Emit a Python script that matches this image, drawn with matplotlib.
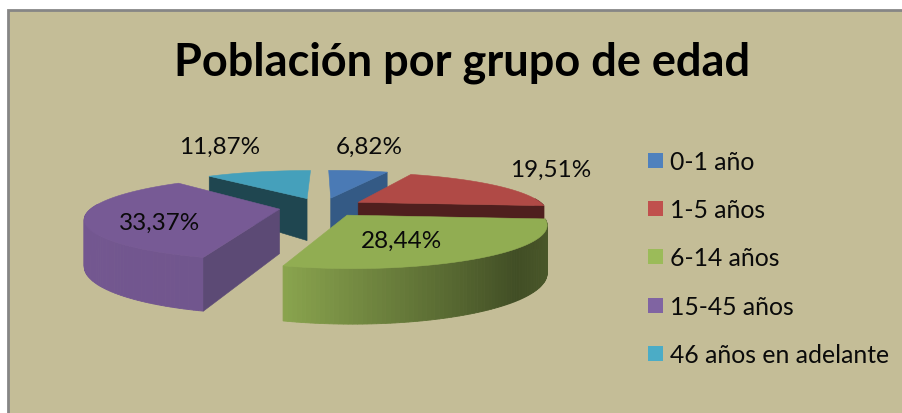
import numpy as np
import matplotlib
matplotlib.use("Agg")
import matplotlib.pyplot as plt
from matplotlib.patches import Polygon, Rectangle

plt.rcParams["font.family"] = ["Lato", "DejaVu Sans"]

title = "Población por grupo de edad"
categories = ["0-1 año", "1-5 años", "6-14 años", "15-45 años", "46 años en adelante"]
values = [6.82, 19.51, 28.44, 33.37, 11.87]

top_colors = ["#4a7ab5", "#b04a46", "#91ad52", "#775a95", "#45a0bb"]
cut_colors = ["#345a85", "#4f1f1e", "#5f7535", "#5c4a75", "#1f4650"]
legend_colors = ["#4f81bd", "#c0504d", "#9bbb59", "#8064a2", "#4bacc6"]
label_pos = [(369, 147), (551, 170), (402, 241), (160, 223), (220, 147)]
legend_y = [162.5, 210.5, 258.5, 307.5, 355.5]

BG = "#c4bd97"
CX, CY = 322, 208
A, B = 187, 41
HEIGHT = 44
EXPLODE = 0.23
PERSP = 0.22


def project(wx, wy, z=0.0):
    s = 1 - PERSP * wy
    return CX + A * wx * s, CY - B * wy * s + HEIGHT * z * s


def shade(color, f):
    return tuple(c * f for c in matplotlib.colors.to_rgb(color))


def rim_shade(u):
    return np.interp(u, [-1, -0.29, 0.75, 1], [0.97, 0.95, 0.45, 0.52])


fig = plt.figure(figsize=(9.02, 4.14), dpi=100, facecolor="white")
ax = fig.add_axes([0, 0, 1, 1])
ax.set_xlim(0, 902)
ax.set_ylim(414, 0)
ax.axis("off")

ax.add_patch(Rectangle((8, 11), 900, 410, facecolor=BG, edgecolor="#868686", lw=2))

edges = np.cumsum([0] + values) / sum(values) * 2 * np.pi


def draw_slice(i):
    t0, t1 = edges[i], edges[i + 1]
    mid = (t0 + t1) / 2
    ex, ey = EXPLODE * np.sin(mid), EXPLODE * np.cos(mid)
    th = np.linspace(t0, t1, 90)
    wx = ex + np.sin(th)
    wy = ey + np.cos(th)

    top = [project(ex, ey)] + [project(x, y) for x, y in zip(wx, wy)]

    for j in range(len(th) - 1):
        if np.cos(th[j]) > 0.1:
            continue
        quad = [project(wx[j], wy[j]), project(wx[j + 1], wy[j + 1]),
                project(wx[j + 1], wy[j + 1], 1), project(wx[j], wy[j], 1)]
        c = shade(top_colors[i], rim_shade(np.sin(th[j])))
        ax.add_patch(Polygon(quad, facecolor=c, edgecolor=c, lw=0.6))

    # only the cut faces turned towards the viewer get drawn
    for k, facing in ((0, np.sin(t0) < -0.01), (-1, np.sin(t1) > 0.01)):
        if facing:
            quad = [project(ex, ey), project(wx[k], wy[k]),
                    project(wx[k], wy[k], 1), project(ex, ey, 1)]
            ax.add_patch(Polygon(quad, facecolor=cut_colors[i], edgecolor=cut_colors[i], lw=0.4))

    ax.add_patch(Polygon(top, facecolor=top_colors[i], edgecolor=top_colors[i], lw=0.4))


for i in [4, 0, 1, 3, 2]:
    draw_slice(i)

for v, (x, y) in zip(values, label_pos):
    ax.text(x, y, f"{v:.2f}".replace(".", ",") + "%", ha="center", va="center",
            fontsize=17.5, color="#0a0a0a")

for name, c, y in zip(categories, legend_colors, legend_y):
    ax.add_patch(Rectangle((648, y - 9), 15, 15, facecolor=c, edgecolor="none"))
    ax.text(670, y, name, ha="left", va="center", fontsize=17.8, color="#0a0a0a")

ax.text(462, 63, title, ha="center", va="center", fontsize=32.5, fontweight="bold",
        color="black")

fig.savefig("out.png", dpi=100, facecolor="white")
